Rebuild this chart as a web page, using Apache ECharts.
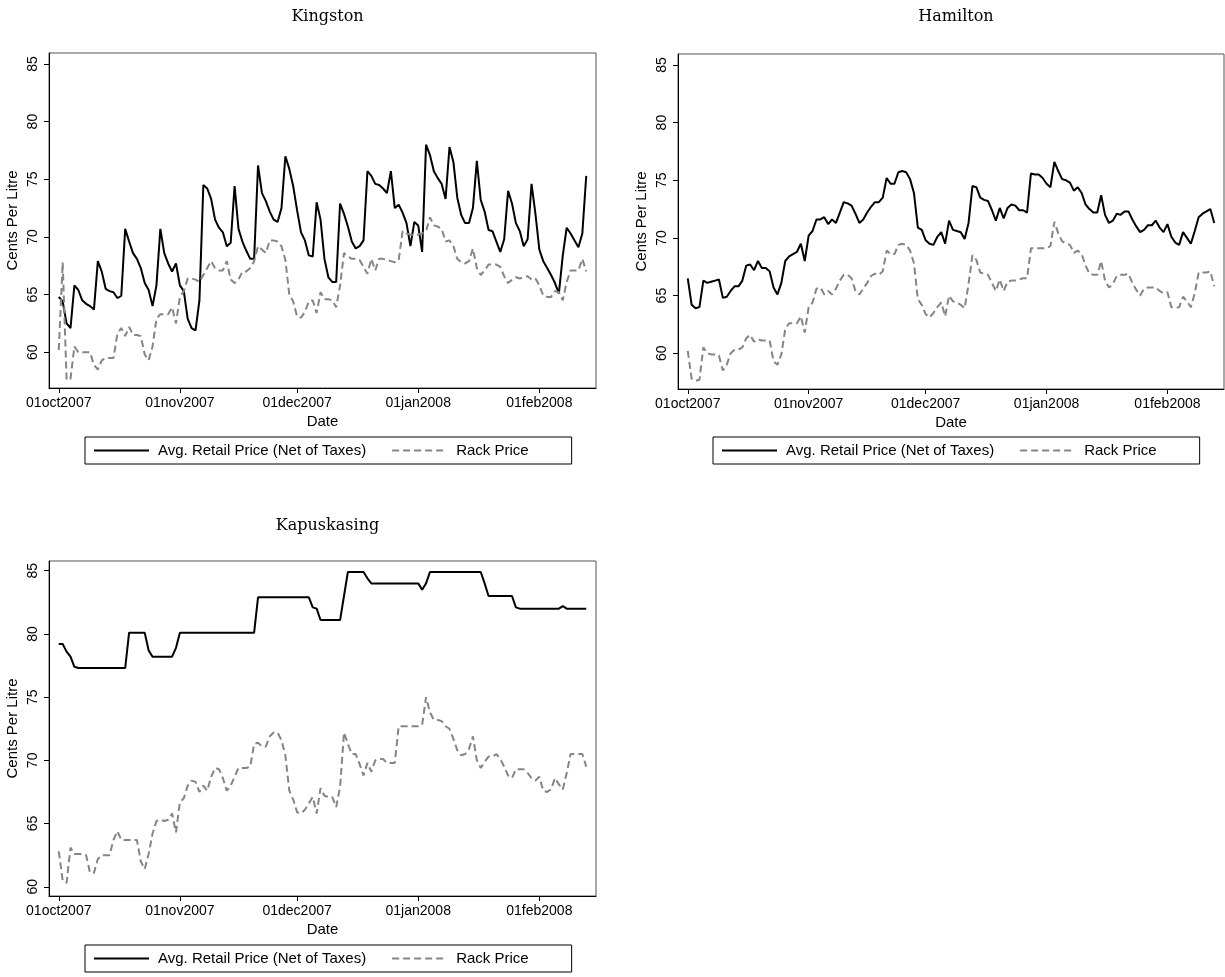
<!DOCTYPE html>
<html>
<head>
<meta charset="utf-8">
<title>Retail and Rack Gasoline Prices</title>
<script src="https://cdn.jsdelivr.net/npm/echarts@6/dist/echarts.min.js"></script>
<style>
  html, body { margin: 0; padding: 0; background: #fff; }
  #chart { width: 1225px; height: 977px; }
</style>
</head>
<body>
<div id="chart"></div>
<script>
// Daily prices (cents per litre), one value per day starting 01oct2007.
const tickDays = [0, 31, 61, 92, 123];
const tickLabels = ['01oct2007', '01nov2007', '01dec2007', '01jan2008', '01feb2008'];
const yTicks = [60, 65, 70, 75, 80, 85];
const seriesNames = ['Avg. Retail Price (Net of Taxes)', 'Rack Price'];

const kingstonRetail = [
  64.8, 64.4, 62.5, 62.1, 65.8, 65.4, 64.5, 64.2, 64.0, 63.7,
  67.9, 67.0, 65.5, 65.3, 65.2, 64.7, 64.9, 70.7, 69.6, 68.6,
  68.1, 67.3, 66.0, 65.4, 64.0, 65.8, 70.7, 68.6, 67.7, 67.0,
  67.7, 65.8, 65.3, 62.9, 62.1, 61.9, 64.5, 74.5, 74.2, 73.3,
  71.5, 70.8, 70.4, 69.2, 69.5, 74.4, 70.7, 69.6, 68.8, 68.1,
  68.1, 76.2, 73.8, 73.1, 72.2, 71.5, 71.3, 72.5, 77.0, 75.9,
  74.4, 72.3, 70.4, 69.7, 68.4, 68.3, 73.0, 71.5, 68.1, 66.5,
  66.1, 66.1, 72.9, 72.0, 70.9, 69.6, 69.0, 69.2, 69.7, 75.7,
  75.3, 74.6, 74.5, 74.2, 73.8, 75.7, 72.5, 72.8, 72.1, 71.2,
  69.2, 71.3, 71.0, 68.7, 78.0, 77.1, 75.7, 75.1, 74.6, 73.3,
  77.8, 76.5, 73.4, 71.9, 71.2, 71.2, 72.5, 76.6, 73.2, 72.2,
  70.6, 70.5, 69.6, 68.7, 69.8, 74.0, 72.9, 71.2, 70.5, 69.2,
  69.8, 74.6, 72.0, 68.9, 67.9, 67.3, 66.7, 66.0, 65.1, 68.4,
  70.8, 70.3, 69.7, 69.1, 70.3, 75.3
];
const kingstonRack = [
  60.2, 67.8, 57.6, 57.7, 60.5, 60.0, 60.0, 60.0, 60.0, 58.9,
  58.5, 59.3, 59.5, 59.5, 59.5, 61.6, 62.1, 61.4, 62.2, 61.5,
  61.5, 61.4, 59.8, 59.3, 60.5, 62.9, 63.3, 63.3, 63.3, 63.9,
  62.5, 64.8, 65.3, 66.4, 66.4, 66.3, 66.1, 66.7, 67.3, 67.9,
  67.3, 67.1, 67.1, 67.9, 66.3, 66.0, 66.3, 67.0, 67.0, 67.3,
  67.9, 69.2, 68.9, 68.6, 69.7, 69.7, 69.6, 69.2, 68.0, 65.0,
  64.4, 63.1, 63.0, 63.5, 64.4, 64.5, 63.4, 65.2, 64.6, 64.6,
  64.5, 63.9, 65.8, 68.6, 68.3, 68.1, 68.1, 68.0, 67.4, 66.8,
  68.1, 67.1, 68.1, 68.1, 68.0, 67.9, 67.8, 68.0, 70.5, 70.3,
  70.2, 70.2, 70.2, 70.3, 70.5, 71.7, 71.0, 70.9, 70.7, 69.6,
  69.7, 69.2, 68.1, 67.8, 67.7, 67.9, 69.0, 67.3, 66.7, 67.1,
  67.6, 67.6, 67.6, 67.4, 66.6, 66.0, 66.3, 66.5, 66.4, 66.5,
  66.6, 66.3, 66.4, 65.8, 64.9, 64.8, 64.8, 65.3, 65.2, 64.5,
  66.1, 67.1, 67.1, 67.1, 68.1, 67.0
];

const hamiltonRetail = [
  66.5, 64.2, 63.9, 64.0, 66.3, 66.1, 66.2, 66.3, 66.4, 64.8,
  64.9, 65.4, 65.8, 65.8, 66.3, 67.6, 67.7, 67.2, 68.0, 67.4,
  67.4, 67.1, 65.7, 65.1, 66.1, 68.0, 68.4, 68.6, 68.8, 69.5,
  68.0, 70.2, 70.6, 71.6, 71.6, 71.8, 71.2, 71.6, 71.3, 72.2,
  73.1, 73.0, 72.8, 72.1, 71.3, 71.6, 72.2, 72.7, 73.1, 73.1,
  73.5, 75.2, 74.7, 74.7, 75.7, 75.8, 75.7, 75.1, 73.9, 70.9,
  70.7, 69.8, 69.5, 69.4, 70.1, 70.5, 69.5, 71.5, 70.7, 70.6,
  70.5, 69.9, 71.3, 74.5, 74.4, 73.5, 73.3, 73.2, 72.4, 71.5,
  72.6, 71.7, 72.6, 72.9, 72.8, 72.4, 72.4, 72.2, 75.6, 75.5,
  75.5, 75.2, 74.7, 74.4, 76.6, 75.8, 75.1, 75.0, 74.8, 74.1,
  74.4, 73.9, 72.9, 72.5, 72.2, 72.2, 73.7, 72.0, 71.3, 71.5,
  72.1, 72.0, 72.3, 72.3, 71.6, 71.0, 70.5, 70.7, 71.1, 71.1,
  71.5, 70.9, 70.5, 71.2, 70.1, 69.6, 69.4, 70.5, 70.0, 69.5,
  70.6, 71.8, 72.1, 72.3, 72.5, 71.3
];
const hamiltonRack = [
  60.2, 57.8, 57.6, 57.7, 60.5, 60.0, 59.9, 59.9, 59.8, 58.5,
  59.0, 60.0, 60.3, 60.3, 60.5, 61.3, 61.6, 61.0, 61.2, 61.1,
  61.1, 61.1, 59.3, 59.0, 59.9, 62.1, 62.6, 62.6, 62.6, 63.2,
  61.8, 64.0, 64.4, 65.6, 65.7, 65.1, 65.4, 65.1, 65.6, 66.3,
  66.8, 66.8, 66.5, 65.4, 65.1, 65.6, 66.1, 66.7, 66.9, 66.8,
  67.1, 68.9, 68.6, 68.6, 69.4, 69.5, 69.4, 68.9, 67.8, 64.7,
  64.2, 63.4, 63.1, 63.5, 64.0, 64.4, 63.2, 65.0, 64.5, 64.4,
  64.2, 63.9, 66.0, 68.5, 68.1, 67.0, 66.9, 66.8, 66.1, 65.4,
  66.4, 65.4, 66.2, 66.3, 66.3, 66.4, 66.5, 66.5, 69.1, 69.1,
  69.1, 69.1, 69.1, 69.3, 71.4, 70.4, 69.7, 69.5, 69.4, 68.7,
  68.9, 68.6, 67.6, 66.9, 66.8, 66.8, 68.0, 66.3, 65.7, 66.0,
  66.7, 66.8, 66.8, 66.9, 66.1, 65.5, 65.0, 65.6, 65.7, 65.7,
  65.7, 65.4, 65.2, 65.3, 64.0, 63.9, 64.0, 64.9, 64.5, 64.0,
  65.2, 67.0, 67.0, 67.0, 67.1, 65.8
];

const kapuskasingRetail = [
  79.2, 79.2, 78.6, 78.2, 77.4, 77.3, 77.3, 77.3, 77.3, 77.3,
  77.3, 77.3, 77.3, 77.3, 77.3, 77.3, 77.3, 77.3, 80.1, 80.1,
  80.1, 80.1, 80.1, 78.7, 78.2, 78.2, 78.2, 78.2, 78.2, 78.2,
  78.9, 80.1, 80.1, 80.1, 80.1, 80.1, 80.1, 80.1, 80.1, 80.1,
  80.1, 80.1, 80.1, 80.1, 80.1, 80.1, 80.1, 80.1, 80.1, 80.1,
  80.1, 82.9, 82.9, 82.9, 82.9, 82.9, 82.9, 82.9, 82.9, 82.9,
  82.9, 82.9, 82.9, 82.9, 82.9, 82.1, 82.0, 81.1, 81.1, 81.1,
  81.1, 81.1, 81.1, 83.0, 84.9, 84.9, 84.9, 84.9, 84.9, 84.4,
  84.0, 84.0, 84.0, 84.0, 84.0, 84.0, 84.0, 84.0, 84.0, 84.0,
  84.0, 84.0, 84.0, 83.5, 84.0, 84.9, 84.9, 84.9, 84.9, 84.9,
  84.9, 84.9, 84.9, 84.9, 84.9, 84.9, 84.9, 84.9, 84.9, 84.0,
  83.0, 83.0, 83.0, 83.0, 83.0, 83.0, 83.0, 82.1, 82.0, 82.0,
  82.0, 82.0, 82.0, 82.0, 82.0, 82.0, 82.0, 82.0, 82.0, 82.2,
  82.0, 82.0, 82.0, 82.0, 82.0, 82.0
];
const kapuskasingRack = [
  62.8, 60.5, 60.3, 63.1, 62.6, 62.6, 62.6, 62.5, 61.1, 61.1,
  62.2, 62.5, 62.5, 62.5, 63.7, 64.4, 63.7, 63.7, 63.7, 63.7,
  63.7, 62.0, 61.4, 62.6, 64.2, 65.2, 65.3, 65.2, 65.3, 65.8,
  64.3, 66.7, 67.0, 68.0, 68.4, 68.3, 67.5, 68.0, 67.6, 68.7,
  69.4, 69.3, 68.6, 67.6, 68.0, 68.7, 69.4, 69.4, 69.4, 69.5,
  71.3, 71.4, 71.1, 71.1, 71.9, 72.2, 72.2, 71.6, 70.4, 67.6,
  66.9, 65.9, 65.8, 66.1, 66.6, 67.1, 65.8, 67.8, 67.2, 67.1,
  67.1, 66.3, 67.9, 72.2, 71.3, 70.5, 70.5, 69.7, 68.8, 69.8,
  69.1, 70.0, 70.1, 70.1, 69.8, 69.8, 69.8, 72.7, 72.7, 72.7,
  72.7, 72.7, 72.7, 72.8, 75.0, 73.8, 73.2, 73.2, 73.1, 72.7,
  72.5, 71.7, 70.8, 70.4, 70.5, 70.9, 71.9, 70.0, 69.4, 69.9,
  70.3, 70.3, 70.5, 70.1, 69.5, 68.8, 68.6, 69.3, 69.3, 69.3,
  69.0, 68.6, 68.4, 68.7, 67.6, 67.5, 67.7, 68.6, 68.1, 67.7,
  69.0, 70.5, 70.5, 70.5, 70.5, 69.5
];

// Panel layout: one grid per city, Stata-style combined graph.
const panels = [
  { title: 'Kingston', retail: kingstonRetail, rack: kingstonRack,
    grid: { left: 49, top: 53, width: 547, height: 335 }, yMin: 56.9, yMax: 85.95,
    titleTop: 4, legendLeft: 85, legendTop: 437 },
  { title: 'Hamilton', retail: hamiltonRetail, rack: hamiltonRack,
    grid: { left: 678, top: 54, width: 546, height: 335 }, yMin: 56.9, yMax: 85.95,
    titleTop: 4, legendLeft: 713, legendTop: 437 },
  { title: 'Kapuskasing', retail: kapuskasingRetail, rack: kapuskasingRack,
    grid: { left: 49, top: 561, width: 547, height: 335 }, yMin: 59.27, yMax: 85.77,
    titleTop: 513, legendLeft: 85, legendTop: 945 }
];

const sans = 'Liberation Sans, Arial, Helvetica, sans-serif';
const serif = 'DejaVu Serif, serif';
const tickFont = { fontFamily: sans, fontSize: 14, color: '#000' };
const nameFont = { fontFamily: sans, fontSize: 15, color: '#000' };

const option = {
  animation: false,
  backgroundColor: '#fff',
  title: panels.map(p => ({
    text: p.title,
    left: p.grid.left + p.grid.width / 2,
    top: p.titleTop,
    textAlign: 'center',
    textStyle: { fontFamily: serif, fontSize: 16, fontWeight: 'normal', color: '#000' }
  })),
  legend: panels.map(p => ({
    data: seriesNames,
    left: p.legendLeft,
    top: p.legendTop,
    orient: 'horizontal',
    itemWidth: 55,
    itemHeight: 14,
    itemGap: 25,
    padding: [6, 43, 6, 8],
    borderColor: '#000',
    borderWidth: 1,
    selectedMode: false,
    itemStyle: { opacity: 0 },
    textStyle: Object.assign({ padding: [0, 0, 0, 4] }, nameFont)
  })),
  grid: panels.map(p => Object.assign({
    show: true,
    borderColor: '#555',
    borderWidth: 1,
    backgroundColor: 'transparent',
    containLabel: false,
    outerBoundsMode: 'none'
  }, p.grid)),
  xAxis: panels.map((p, i) => ({
    type: 'value',
    gridIndex: i,
    min: -2.5,
    max: 137.5,
    name: 'Date',
    nameLocation: 'middle',
    nameGap: 26,
    nameTextStyle: nameFont,
    axisLine: { show: true, onZero: false, lineStyle: { color: '#000', width: 1 } },
    axisTick: { show: true, customValues: tickDays, length: 5, lineStyle: { color: '#000' } },
    axisLabel: Object.assign({
      customValues: tickDays,
      margin: 8,
      formatter: v => tickLabels[tickDays.indexOf(v)]
    }, tickFont),
    splitLine: { show: false }
  })),
  yAxis: panels.map((p, i) => ({
    type: 'value',
    gridIndex: i,
    min: p.yMin,
    max: p.yMax,
    name: 'Cents Per Litre',
    nameLocation: 'middle',
    nameRotate: 90,
    nameGap: 29,
    nameTextStyle: nameFont,
    axisLine: { show: true, onZero: false, lineStyle: { color: '#000', width: 1 } },
    axisTick: { show: true, customValues: yTicks, length: 5, lineStyle: { color: '#000' } },
    axisLabel: Object.assign({ customValues: yTicks, rotate: 90, margin: 9 }, tickFont),
    splitLine: { show: false }
  })),
  series: panels.flatMap((p, i) => [
    {
      type: 'line', name: seriesNames[0], xAxisIndex: i, yAxisIndex: i,
      data: p.retail.map((v, d) => [d, v]),
      symbol: 'none', silent: true,
      itemStyle: { color: '#000' },
      lineStyle: { color: '#000', width: 2 }
    },
    {
      type: 'line', name: seriesNames[1], xAxisIndex: i, yAxisIndex: i,
      data: p.rack.map((v, d) => [d, v]),
      symbol: 'none', silent: true,
      itemStyle: { color: '#858585' },
      lineStyle: { color: '#858585', width: 2, type: [7, 4] }
    }
  ])
};

const chart = echarts.init(document.getElementById('chart'), null, { renderer: 'canvas' });
chart.setOption(option);
</script>
</body>
</html>
